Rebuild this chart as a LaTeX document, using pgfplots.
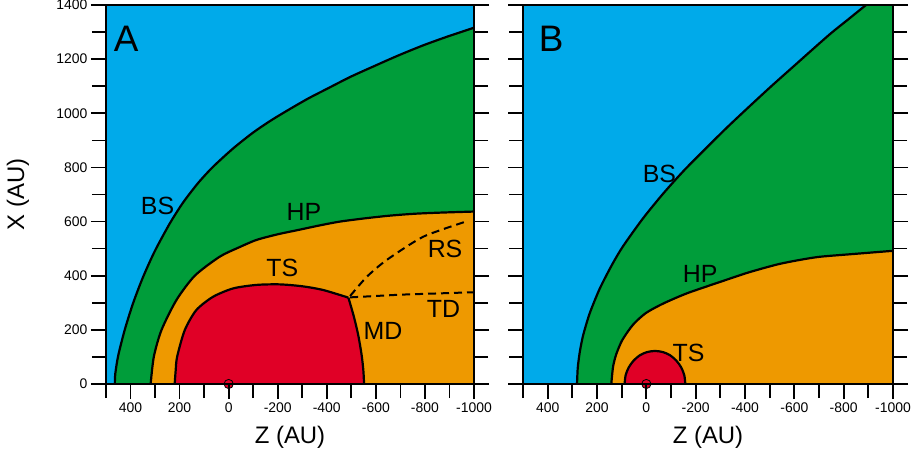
\documentclass[border=0pt]{standalone}
\usepackage{pgfplots}
\pgfplotsset{compat=1.18}
\usepackage{fontspec}
\setmainfont{Liberation Sans}
\definecolor{skyb}{RGB}{0,170,234}
\definecolor{grn}{RGB}{0,157,58}
\definecolor{org}{RGB}{238,153,0}
\definecolor{rd}{RGB}{224,0,38}
\tikzset{
 reg/.style={font=\fontsize{25}{25}\selectfont},
 pletter/.style={font=\fontsize{37}{37}\selectfont},
}
\pgfplotsset{
 panel/.style={
  scale only axis, width=368bp, height=379bp,
  x dir=reverse, xmin=-1000, xmax=500, ymin=0, ymax=1400,
  set layers, axis on top,
  axis background/.style={fill=skyb},
  xtick={-1000,-800,-600,-400,-200,0,200,400},
  xticklabels={-1000,-800,-600,-400,-200,0,200,400},
  minor xtick={-900,-700,-500,-300,-100,100,300,500},
  ytick={0,200,400,600,800,1000,1200,1400},
  minor ytick={100,300,500,700,900,1100,1300},
  tick align=outside, xtick pos=bottom, ytick pos=both, yticklabel pos=left,
  major tick length=15bp, minor tick length=14bp,
  every tick/.style={black, line width=1.7bp},
  axis line style={line width=1.8bp},
  tick label style={font=\fontsize{14}{14}\selectfont},
  label style={font=\fontsize{24}{24}\selectfont},
  xlabel={Z (AU)},
  xlabel style={at={(axis description cs:0.5,-0.14)}, anchor=center},
 },
 curve/.style={black, line width=2.2bp, smooth, tension=0.45},
 dashedc/.style={black, line width=2bp, dash pattern=on 8bp off 5bp},
 dot/.style={on layer=axis foreground, only marks, mark=*, mark size=4.6bp, mark options={fill=rd, draw=black, line width=0.8bp}},
}
\pgfplotstableread{
Z X
464 0
462 39
450 106
423 202
389 300
349 395
301 491
240 593
186 670
124 743
64 802
-18 870
-100 929
-175 975
-250 1016
-325 1055
-400 1090
-495 1134
-590 1173
-690 1213
-793 1251
-897 1285
-1000 1316
}\bsA
\pgfplotstableread{
Z X
318 0
305 101
274 199
213 310
138 400
37 470
-38 503
-113 532
-200 553
-289 570
-372 586
-454 600
-556 612
-658 622
-760 629
-861 633
-1000 637
}\hpA
\pgfplotstableread{
Z X
281 0
278 60
270 117
257 177
230 260
189 352
140 439
95 508
15 610
-68 703
-155 791
-254 882
-331 951
-408 1017
-503 1097
-599 1175
-674 1236
-749 1296
-820 1348
-891 1400
-1000 1476
}\bsB
\pgfplotstableread{
Z X
142 0
135 63
122 110
97 163
54 219
2 262
-68 297
-159 333
-250 362
-328 386
-407 410
-475 428
-542 444
-620 458
-704 470
-850 481
-1000 492
}\hpB
\begin{document}
\begin{tikzpicture}
% ---------------- Panel A ----------------
\begin{axis}[panel,
  yticklabels={0,200,400,600,800,1000,1200,1400},
  ylabel={X (AU)},
  ylabel style={at={(axis description cs:-0.239,0.5)}, anchor=center},
]
\addplot[fill=grn, draw=none, smooth, tension=0.45] table[x=Z,y=X] {\bsA} \closedcycle;
\addplot[fill=org, draw=none, smooth, tension=0.45] table[x=Z,y=X] {\hpA} \closedcycle;
\addplot[fill=rd, draw=none] coordinates {
 (220,0) (216,50) (210,101) (179,199) (132,273) (64,322) (-18,353) (-113,366) (-208,368) (-300,361) (-386,347) (-488,319) (-510,250) (-528,181) (-542,107) (-549,50) (-552,0)} \closedcycle;
\addplot[curve] table[x=Z,y=X] {\bsA};
\addplot[curve] table[x=Z,y=X] {\hpA};
\addplot[curve] coordinates {
 (220,0) (216,50) (210,101) (179,199) (132,273) (64,322) (-18,353) (-113,366) (-208,368) (-300,361) (-386,347) (-488,319)};
\addplot[curve] coordinates {
 (-488,319) (-510,250) (-528,181) (-542,107) (-549,50) (-552,0)};
\addplot[dashedc, smooth, tension=0.4] coordinates {
 (-495,325) (-563,396) (-644,458) (-793,544) (-967,600)};
\addplot[dashedc] coordinates {
 (-495,320) (-700,330) (-1000,339)};
\addplot[dot] coordinates {(0,0)};
\node[pletter] at (axis cs:418,1274) {A};
\node[reg] at (axis cs:290,656) {BS};
\node[reg] at (axis cs:-307,634) {HP};
\node[reg] at (axis cs:-219,427) {TS};
\node[reg] at (axis cs:-882,500) {RS};
\node[reg] at (axis cs:-876,278) {TD};
\node[reg] at (axis cs:-629,196) {MD};
\end{axis}
% ---------------- Panel B ----------------
\begin{axis}[panel, at={(417bp,0)}, width=370bp,
  yticklabels={},
]
\addplot[fill=grn, draw=none, smooth, tension=0.45] table[x=Z,y=X] {\bsB} \closedcycle;
\addplot[fill=org, draw=none, smooth, tension=0.45] table[x=Z,y=X] {\hpB} \closedcycle;
\addplot[fill=rd, draw=black, line width=2.2bp, smooth, tension=0.5] coordinates {
 (88,0) (84,32) (71.5,61) (52,86) (26.5,106) (-3,118) (-35,122) (-67,118) (-96.5,106) (-122,86) (-141.5,61) (-154,32) (-158,0)};
\addplot[curve] table[x=Z,y=X] {\bsB};
\addplot[curve] table[x=Z,y=X] {\hpB};
\addplot[dot] coordinates {(0,0)};
\node[pletter] at (axis cs:386,1276) {B};
\node[reg] at (axis cs:-53,776) {BS};
\node[reg] at (axis cs:-218,406) {HP};
\node[reg] at (axis cs:-171,116) {TS};
\end{axis}
\pgfresetboundingbox
\path[use as bounding box] (-106bp,-72bp) rectangle (805bp,384bp);
\end{tikzpicture}
\end{document}
